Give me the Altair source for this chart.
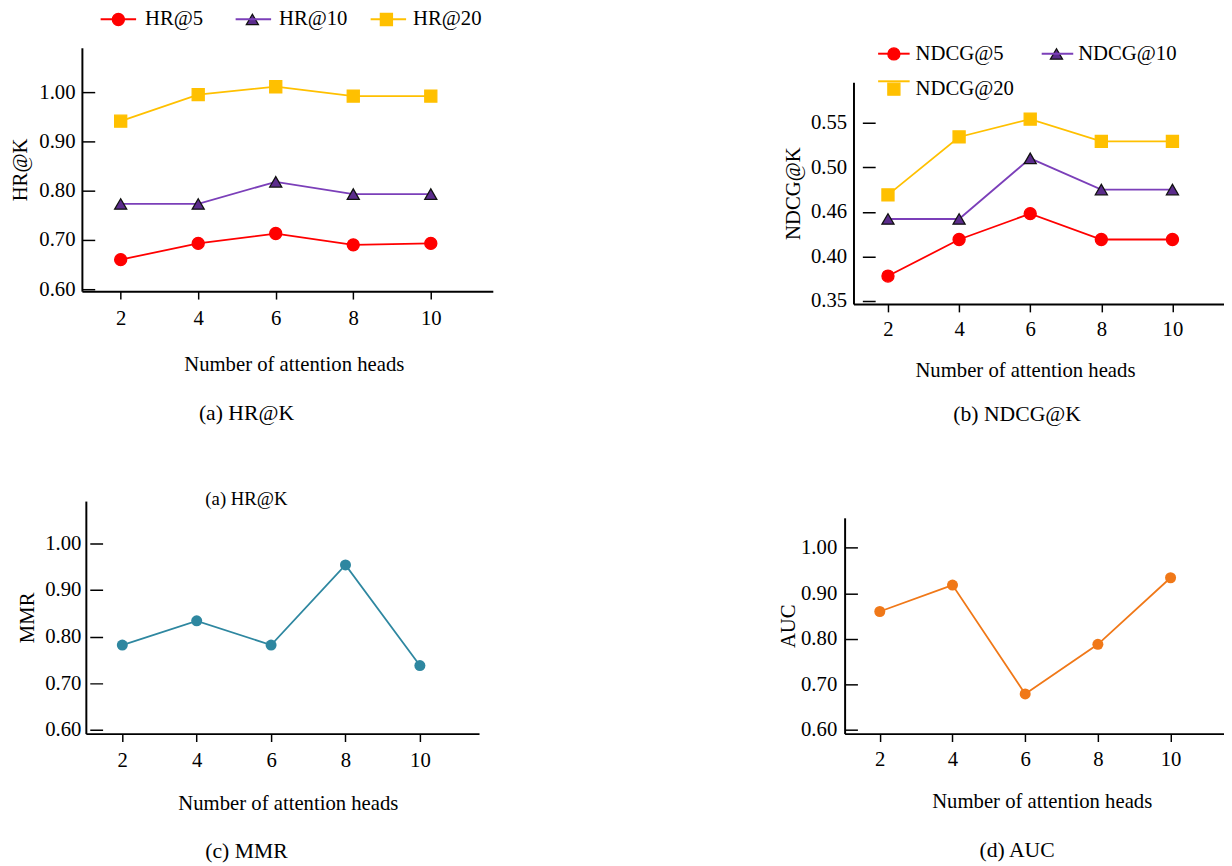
import altair as alt
import pandas as pd

FONT = "Liberation Serif"

# ---------------- data ----------------
heads = [2, 4, 6, 8, 10]

hr_names = ["HR@5", "HR@10", "HR@20"]
hr_at_5 = [0.660, 0.693, 0.713, 0.690, 0.693]
hr_at_10 = [0.773, 0.773, 0.818, 0.793, 0.793]
hr_at_20 = [0.941, 0.995, 1.011, 0.992, 0.992]

ndcg_names = ["NDCG@5", "NDCG@10", "NDCG@20"]
ndcg_at_5 = [0.378, 0.419, 0.448, 0.419, 0.419]
ndcg_at_10 = [0.442, 0.442, 0.510, 0.475, 0.475]
ndcg_at_20 = [0.469, 0.534, 0.554, 0.529, 0.529]

mmr_values = [0.782, 0.834, 0.782, 0.954, 0.738]
auc_values = [0.860, 0.918, 0.679, 0.788, 0.934]

hr_ticks = [0.60, 0.70, 0.80, 0.90, 1.00]
hr_tick_labels = ["0.60", "0.70", "0.80", "0.90", "1.00"]
ndcg_ticks = [0.35, 0.40, 0.45, 0.50, 0.55]
ndcg_tick_labels = ["0.35", "0.40", "0.46", "0.50", "0.55"]

x_title = "Number of attention heads"
captions = ["(a) HR@K", "(b) NDCG@K", "(c) MMR", "(d) AUC"]
stray_label = "(a) HR@K"

line_colors = ["#ff0000", "#7b3fb9", "#ffc000"]
marker_fills = ["#ff0000", "#5b2c8c", "#ffc000"]
marker_edges = ["#ff0000", "#111111", "#ffc000"]
marker_shapes = ["circle", "triangle-up", "square"]
mmr_color = "#2e87a0"
auc_color = "#f07818"

AX = 21  # axis / legend font size


# ---------------- helpers ----------------
def label_expr(ticks, labels):
    expr = "''"
    for t, l in zip(reversed(ticks), reversed(labels)):
        expr = f"abs(datum.value - {t}) < 0.001 ? '{l}' : ({expr})"
    return expr


def y_axis(ticks, labels, title, lp, tp, shift=0):
    # inward ticks are drawn as short dashed grid segments starting at the axis line
    dash = [13, 3000] if shift == 0 else [0, shift, 13, 3000]
    return alt.Axis(
        values=ticks, labelExpr=label_expr(ticks, labels), title=title,
        titlePadding=tp, labelPadding=lp, ticks=False, offset=-shift,
        grid=True, gridColor="black", gridWidth=1.5, gridDash=dash, gridOpacity=1,
        domainColor="black", domainWidth=2,
        labelFont=FONT, labelFontSize=AX, labelColor="black",
        titleFont=FONT, titleFontSize=AX, titleFontWeight="normal", titleColor="black",
    )


def x_axis(title_x, lp, tp):
    return alt.Axis(
        values=heads, format="d", title=x_title, titleX=title_x,
        titlePadding=tp, labelPadding=lp, labelAngle=0,
        tickSize=8, tickWidth=1.5, tickColor="black", grid=False,
        domainColor="black", domainWidth=2,
        labelFont=FONT, labelFontSize=AX, labelColor="black",
        titleFont=FONT, titleFontSize=AX, titleFontWeight="normal", titleColor="black",
    )


def caption(text, dx, offset):
    return alt.TitleParams(text, orient="bottom", anchor="middle", frame="group",
                           dx=dx, offset=offset, font=FONT, fontSize=22,
                           fontWeight="normal", color="black")


def scales(w, h, xdom, ydom, xshift, ytop):
    xs = alt.Scale(domain=xdom, nice=False, zero=False, range=[xshift, w])
    ys = alt.Scale(domain=ydom, nice=False, zero=False, range=[h, ytop])
    return xs, ys


def multi_panel(names, series_vals, w, h, xdom, ydom, xshift, ytop, yticks, ylabels, ytitle,
                ylp, ytp, xtx, xlp, xtp, cap, cap_dx, cap_off, line_leg, mark_leg, extra=()):
    df = pd.DataFrame([
        {"heads": hd, "value": v, "series": n}
        for n, vals in zip(names, series_vals) for hd, v in zip(heads, vals)
    ])
    xs, ys = scales(w, h, xdom, ydom, xshift, ytop)
    x = alt.X("heads:Q", scale=xs, axis=x_axis(xtx, xlp, xtp))
    y = alt.Y("value:Q", scale=ys, axis=y_axis(yticks, ylabels, ytitle, ylp, ytp, xshift))
    common = dict(orient="none", direction="horizontal", title=None, padding=0, gridAlign="all",
                  labelFont=FONT, labelFontSize=AX, labelColor="black")
    lleg = alt.Legend(symbolType="stroke", symbolStrokeWidth=2, labelExpr="''", labelOffset=0,
                      **common, **line_leg)
    mleg = alt.Legend(symbolStrokeWidth=1.3, symbolOpacity=1, symbolSize=150, **common, **mark_leg)
    line = alt.Chart(df).mark_line(strokeWidth=1.8).encode(
        x=x, y=y,
        color=alt.Color("series:N", scale=alt.Scale(domain=names, range=line_colors), legend=lleg),
    )
    pts = alt.Chart(df).mark_point(filled=True, opacity=1, strokeWidth=1.3, size=150).encode(
        x=x, y=y,
        fill=alt.Fill("series:N", scale=alt.Scale(domain=names, range=marker_fills), legend=mleg),
        stroke=alt.Stroke("series:N", scale=alt.Scale(domain=names, range=marker_edges), legend=mleg),
        shape=alt.Shape("series:N", scale=alt.Scale(domain=names, range=marker_shapes), legend=mleg),
    )
    return alt.layer(line, pts, *extra).resolve_legend(color="independent").properties(
        width=w, height=h, title=caption(cap, cap_dx, cap_off))


def single_panel(values, color, w, h, xdom, ydom, xshift, ytop, ytitle, ylp, ytp, xtx, xlp, xtp,
                 cap, cap_dx, cap_off, extra=()):
    df = pd.DataFrame({"heads": heads, "value": values})
    xs, ys = scales(w, h, xdom, ydom, xshift, ytop)
    x = alt.X("heads:Q", scale=xs, axis=x_axis(xtx, xlp, xtp))
    y = alt.Y("value:Q", scale=ys, axis=y_axis(hr_ticks, hr_tick_labels, ytitle, ylp, ytp, xshift))
    line = alt.Chart(df).mark_line(color=color, strokeWidth=1.8).encode(x=x, y=y)
    pts = alt.Chart(df).mark_point(filled=True, opacity=1, color=color, size=125).encode(x=x, y=y)
    return alt.layer(line, pts, *extra).properties(width=w, height=h, title=caption(cap, cap_dx, cap_off))


# ---------------- panels ----------------
panel_a = multi_panel(
    hr_names, [hr_at_5, hr_at_10, hr_at_20], 417, 247, [1.0, 11.6], [0.596, 1.09], 0, 0,
    hr_ticks, hr_tick_labels, "HR@K", 7, 8, 215, 8.5, 26, captions[0], -41.5, 29,
    dict(legendX=18, legendY=-48, symbolSize=1296, columnPadding=93),
    dict(legendX=26.5, legendY=-39.5, labelOffset=16.5, columnPadding=28),
)

panel_b = multi_panel(
    ndcg_names, [ndcg_at_5, ndcg_at_10, ndcg_at_20], 385, 260, [1.03, 11.45], [0.3467, 0.5953], 9, 35,
    ndcg_ticks, ndcg_tick_labels, "NDCG@K", 7, 7, 183, 6.5, 21, captions[1], -17.5, 24.6,
    dict(legendX=33, legendY=-11, symbolSize=1024, columnPadding=126, rowPadding=1, columns=2),
    dict(legendX=39.5, legendY=-4.5, labelOffset=11.5, columnPadding=32, rowPadding=14, columns=2),
)

stray = alt.Chart(pd.DataFrame({"t": [stray_label]})).mark_text(
    font=FONT, fontSize=19, align="center", baseline="middle", color="black"
).encode(text="t:N", x=alt.value(167), y=alt.value(-2))

panel_c = single_panel(
    mmr_values, mmr_color, 403, 236, [1.02, 11.59], [0.592, 1.091], 4, 0, "MMR",
    5, 7, 209, 8, 23.5, captions[2], -34.5, 28, extra=(stray,),
)

panel_d = single_panel(
    auc_values, auc_color, 385, 236, [1.032, 11.47], [0.592, 1.0655], 0, 17, "AUC",
    8, 2, 200, 7, 22, captions[3], -17.5, 29.5,
)

indep = dict(color="independent", fill="independent", stroke="independent",
             shape="independent")

chart = alt.concat(
    panel_a, panel_b, panel_c, panel_d, columns=2,
    spacing={"row": 65, "column": 289},
).resolve_scale(**indep).properties(
    padding={"left": 2, "top": -14, "right": 0, "bottom": 0}
).configure_view(stroke=None)

chart.save("out.html", embed_options={"renderer": "svg", "actions": False})
